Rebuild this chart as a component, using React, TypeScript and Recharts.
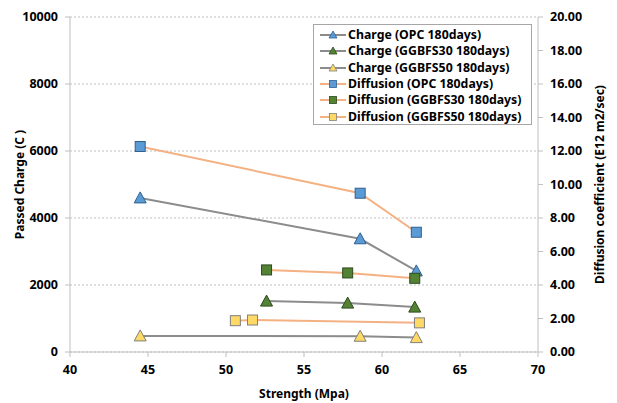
import React from "react";
import {
  LineChart,
  Line,
  XAxis,
  YAxis,
  CartesianGrid,
} from "recharts";

// Strength (Mpa) per series, and the values
const chargeOpcX = [44.5, 58.6, 62.2];
const chargeOpcY = [4600, 3380, 2420];
const chargeG30X = [52.6, 57.8, 62.1];
const chargeG30Y = [1520, 1460, 1340];
const chargeG50X = [44.5, 58.6, 62.2];
const chargeG50Y = [480, 470, 430];
const diffOpcX = [44.5, 58.6, 62.2];
const diffOpcY = [12.27, 9.48, 7.15];
const diffG30X = [52.6, 57.8, 62.1];
const diffG30Y = [4.9, 4.72, 4.4];
const diffG50X = [50.6, 51.7, 62.4];
const diffG50Y = [1.87, 1.91, 1.74];

const xTicks = [40, 45, 50, 55, 60, 65, 70];
const leftTicks = [0, 2000, 4000, 6000, 8000, 10000];
const rightTicks = [0, 2, 4, 6, 8, 10, 12, 14, 16, 18, 20];

const FONT = "'Noto Sans', 'DejaVu Sans', sans-serif";
const CHARGE_LINE = "#8c8c8c";
const DIFF_LINE = "#f4b183";

const zip = (xs: number[], ys: number[]) => xs.map((x, i) => ({ x, y: ys[i] }));

interface SeriesDef {
  name: string;
  data: { x: number; y: number }[];
  axis: "left" | "right";
  line: string;
  shape: "tri" | "sq";
  fill: string;
  stroke: string;
}

const series: SeriesDef[] = [
  { name: "Charge (OPC 180days)", data: zip(chargeOpcX, chargeOpcY), axis: "left", line: CHARGE_LINE, shape: "tri", fill: "#5b9bd5", stroke: "#2f5f8f" },
  { name: "Charge (GGBFS30 180days)", data: zip(chargeG30X, chargeG30Y), axis: "left", line: CHARGE_LINE, shape: "tri", fill: "#548235", stroke: "#2e4a1d" },
  { name: "Charge (GGBFS50 180days)", data: zip(chargeG50X, chargeG50Y), axis: "left", line: CHARGE_LINE, shape: "tri", fill: "#ffd966", stroke: "#7f7f7f" },
  { name: "Diffusion (OPC 180days)", data: zip(diffOpcX, diffOpcY), axis: "right", line: DIFF_LINE, shape: "sq", fill: "#5b9bd5", stroke: "#2f5f8f" },
  { name: "Diffusion (GGBFS30 180days)", data: zip(diffG30X, diffG30Y), axis: "right", line: DIFF_LINE, shape: "sq", fill: "#548235", stroke: "#2e4a1d" },
  { name: "Diffusion (GGBFS50 180days)", data: zip(diffG50X, diffG50Y), axis: "right", line: DIFF_LINE, shape: "sq", fill: "#ffd966", stroke: "#7f7f7f" },
];

function Marker({ cx, cy, s, k }: { cx: number; cy: number; s: SeriesDef; k?: string }) {
  if (s.shape === "tri") {
    const d = `M${cx},${cy - 6} L${cx + 6},${cy + 5} L${cx - 6},${cy + 5} Z`;
    return <path key={k} d={d} fill={s.fill} stroke={s.stroke} strokeWidth={1} />;
  }
  return (
    <rect key={k} x={cx - 5} y={cy - 5} width={10} height={10} fill={s.fill} stroke={s.stroke} strokeWidth={1} />
  );
}

function LegendBox() {
  return (
    <div
      style={{
        position: "absolute",
        left: 313,
        top: 24,
        width: 219,
        height: 101,
        background: "#fff",
        border: "1px solid #a6a6a6",
        boxSizing: "border-box",
        padding: "2px 0 0 6px",
        fontFamily: FONT,
        fontWeight: 700,
        fontSize: 12.3,
        color: "#000",
      }}
    >
      {series.map((s) => (
        <div key={s.name} style={{ display: "flex", alignItems: "center", height: 16.3 }}>
          <svg width={26} height={14} style={{ marginRight: 2 }}>
            <line x1={0} y1={7} x2={26} y2={7} stroke={s.line} strokeWidth={2} />
            {s.shape === "tri" ? (
              <path d="M13,3 L17,10 L9,10 Z" fill={s.fill} stroke={s.stroke} strokeWidth={0.8} />
            ) : (
              <rect x={9.5} y={3.5} width={7} height={7} fill={s.fill} stroke={s.stroke} strokeWidth={0.8} />
            )}
          </svg>
          <span style={{ whiteSpace: "nowrap", lineHeight: "16px" }}>{s.name}</span>
        </div>
      ))}
    </div>
  );
}

const tickStyle = { fontSize: 12.5, fill: "#000", fontWeight: 700, fontFamily: FONT };
const labelStyle = { textAnchor: "middle", fontSize: 12, fontWeight: 700, fill: "#000", fontFamily: FONT };

export default function App() {
  return (
    <div style={{ position: "absolute", left: 0, top: 0, width: 617, height: 403, background: "#fff" }}>
      <LineChart width={617} height={403} margin={{ top: 17, right: 0, left: 0, bottom: 0 }}>
        <CartesianGrid yAxisId="left" vertical={false} stroke="#bfbfbf" strokeDasharray="2 2" />
        <XAxis
          type="number"
          dataKey="x"
          domain={[40, 70]}
          ticks={xTicks}
          height={51}
          tick={tickStyle}
          tickSize={5}
          tickMargin={8}
          stroke="#bfbfbf"
          allowDuplicatedCategory={false}
          label={{ value: "Strength (Mpa)", position: "insideBottom", offset: 5, style: labelStyle }}
        />
        <YAxis
          yAxisId="left"
          domain={[0, 10000]}
          ticks={leftTicks}
          width={70}
          tick={tickStyle}
          tickSize={5}
          tickMargin={7}
          stroke="#bfbfbf"
          label={{ value: "Passed Charge (C )", angle: -90, position: "insideLeft", offset: 20, style: labelStyle }}
        />
        <YAxis
          yAxisId="right"
          orientation="right"
          domain={[0, 20]}
          ticks={rightTicks}
          width={79}
          tick={tickStyle}
          tickSize={5}
          tickMargin={7}
          tickFormatter={(v: number) => v.toFixed(2)}
          stroke="#bfbfbf"
          label={{ value: "Diffusion coefficient (E12 m2/sec)", angle: -90, position: "insideRight", offset: 17, style: labelStyle }}
        />
        {series.map((s) => (
          <Line
            key={s.name}
            data={s.data}
            dataKey="y"
            yAxisId={s.axis}
            name={s.name}
            stroke={s.line}
            strokeWidth={2}
            isAnimationActive={false}
            dot={(p: any) => <Marker key={`${s.name}-${p.index}`} k={`${s.name}-${p.index}`} cx={p.cx} cy={p.cy} s={s} />}
            activeDot={false}
          />
        ))}
      </LineChart>
      <LegendBox />
    </div>
  );
}
